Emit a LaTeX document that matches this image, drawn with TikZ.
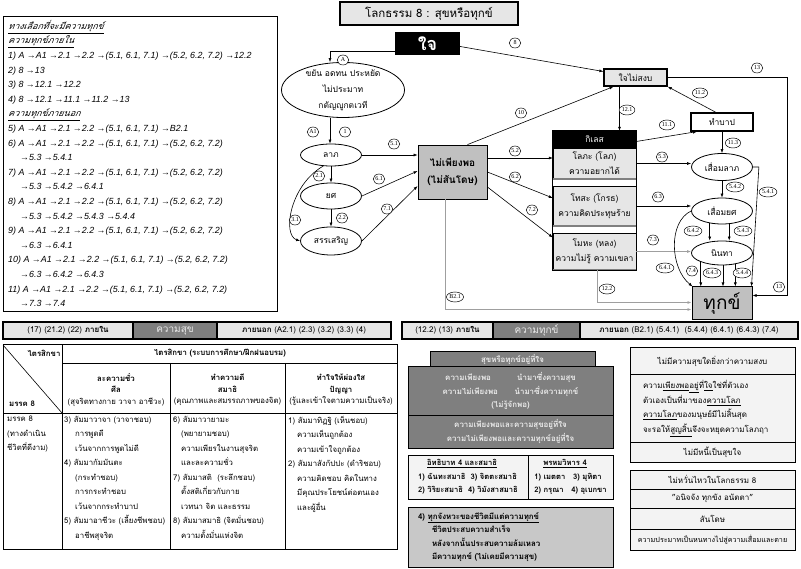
\documentclass[tikz,border=0pt]{standalone}
\usepackage{fontspec}
\setmainfont{Loma}[Script=Thai]
\newfontfamily\thaiit{Loma}[Script=Thai,FakeSlant=0.2]
\newfontfamily\latin{Liberation Sans}
\newfontfamily\numfont{Liberation Serif}
\usetikzlibrary{arrows.meta, calc, shapes.geometric}
\definecolor{lgray}{HTML}{E6E6E6}
\definecolor{mgray}{HTML}{C0C0C0}
\definecolor{ggray}{HTML}{C8C8C8}
\definecolor{dgray}{HTML}{7F7F7F}
\definecolor{pgray}{HTML}{F3F3F3}
\definecolor{lgtext}{HTML}{EAEAEA}

\begin{document}
\begin{tikzpicture}[x=1pt, y=-1pt, >={Latex[length=4pt,width=3pt]},
    arr/.style={->, line width=0.6pt},
    garr/.style={->, line width=1.6pt, draw=gray!75},
    num/.style={draw, ellipse, inner sep=0.3pt, minimum width=11.5pt, minimum height=10pt,
        fill=white, line width=0.5pt, font=\numfont\fontsize{6}{6}\selectfont},
    oval/.style={draw, ellipse, line width=0.8pt, inner sep=0pt, minimum width=61pt,
        fill=white, font=\fontsize{8.5}{10}\selectfont},
    kbox/.style={draw, fill=lgray, minimum width=83pt, inner sep=0pt, align=center,
        font=\fontsize{8.5}{15}\selectfont},
    bar/.style={draw, line width=1.2pt, fill=lgray, minimum height=17pt, inner sep=0pt,
        font=\fontsize{8}{10}\selectfont},
    hcell/.style={align=center, inner sep=0pt, font=\fontsize{7.8}{11.5}\selectfont},
    cell/.style={anchor=north west, align=left, inner sep=0pt, font=\fontsize{7.8}{14.5}\selectfont},
    dbox/.style={draw, line width=1pt, fill=dgray, text=lgtext, inner sep=0pt, align=center,
        font=\bfseries\fontsize{7.9}{13.5}\selectfont},
    rbox/.style={draw, line width=1pt, fill=pgray, minimum width=165pt, inner sep=0pt,
        align=center, font=\fontsize{8}{14.5}\selectfont}]

\useasboundingbox (0,0) rectangle (801,569);
\fill[white] (0,0) rectangle (801,569);

% left box
\node[draw, line width=1pt, minimum width=274pt, minimum height=295pt, inner sep=0pt] (opt) at (140,164.5) {};
\node[anchor=north west, align=left, inner sep=0pt, font=\latin\itshape\fontsize{8.9}{14.6}\selectfont] (opttxt) at (8,20) {%
{\thaiit\underline{ทางเลือกที่จะมีความทุกข์}}\\
{\thaiit\underline{ความทุกข์ภายใน}}\\
1) A →A1 →2.1 →2.2 →(5.1,\ 6.1,\ 7.1) →(5.2,\ 6.2,\ 7.2) →12.2\\
2) 8 →13\\
3) 8 →12.1 →12.2\\
4) 8 →12.1 →11.1 →11.2 →13\\
{\thaiit\underline{ความทุกข์ภายนอก}}\\
5) A →A1 →2.1 →2.2 →(5.1,\ 6.1,\ 7.1) →B2.1\\
6) A →A1 →2.1 →2.2 →(5.1,\ 6.1,\ 7.1) →(5.2,\ 6.2,\ 7.2)\\
\hspace*{12pt}→5.3 →5.4.1\\
7) A →A1 →2.1 →2.2 →(5.1,\ 6.1,\ 7.1) →(5.2,\ 6.2,\ 7.2)\\
\hspace*{12pt}→5.3 →5.4.2 →6.4.1\\
8) A →A1 →2.1 →2.2 →(5.1,\ 6.1,\ 7.1) →(5.2,\ 6.2,\ 7.2)\\
\hspace*{12pt}→5.3 →5.4.2 →5.4.3 →5.4.4\\
9) A →A1 →2.1 →2.2 →(5.1,\ 6.1,\ 7.1) →(5.2,\ 6.2,\ 7.2)\\
\hspace*{12pt}→6.3 →6.4.1\\
10) A →A1 →2.1 →2.2 →(5.1,\ 6.1,\ 7.1) →(5.2,\ 6.2,\ 7.2)\\
\hspace*{12pt}→6.3 →6.4.2 →6.4.3\\
11) A →A1 →2.1 →2.2 →(5.1,\ 6.1,\ 7.1) →(5.2,\ 6.2,\ 7.2)\\
\hspace*{12pt}→7.3 →7.4};

% diagram nodes
\node[draw, line width=1.5pt, fill=lgray, minimum width=178pt, minimum height=23pt, inner sep=0pt,
    font=\fontsize{11.5}{12}\selectfont] (title) at (429,13.5) {โลกธรรม 8 : สุขหรือทุกข์};
\node[fill=black, text=white, minimum width=65pt, minimum height=23pt, inner sep=0pt,
    font=\bfseries\fontsize{18}{18}\selectfont] (jai) at (427.5,43.5) {ใจ};
\node[draw, ellipse, line width=0.8pt, minimum width=123pt, minimum height=55pt] (effort) at (343,90) {};
\node[align=center, inner sep=0pt, font=\fontsize{8.5}{16}\selectfont] (efftxt) at (effort.center)
    {ขยัน อดทน ประหยัด\\ไม่ประมาท\\กตัญญูกตเวที};
\node[oval, minimum height=22pt] (lapa) at (331,155) {ลาภ};
\node[oval, minimum height=26pt] (yot) at (331,196) {ยศ};
\node[oval, minimum height=28pt] (sansoen) at (331,241) {สรรเสริญ};
\node[draw, line width=0.8pt, fill=mgray, minimum width=69pt, minimum height=54pt, inner sep=0pt,
    align=center, font=\bfseries\fontsize{10}{17}\selectfont] (mp) at (452.5,172) {ไม่เพียงพอ\\(ไม่สันโดษ)};
\node[draw, line width=1.2pt, fill=lgray, minimum width=63pt, minimum height=17pt, inner sep=0pt,
    font=\fontsize{8.5}{9}\selectfont] (jms) at (635.5,77.5) {ใจไม่สงบ};
\node[draw, line width=1.2pt, fill=white, minimum width=62pt, minimum height=18pt, inner sep=0pt,
    font=\fontsize{8.5}{9}\selectfont] (bap) at (722,122) {ทำบาป};
\node[fill=black, text=white, minimum width=83pt, minimum height=17pt, inner sep=0pt,
    font=\fontsize{8.5}{9}\selectfont] (kil) at (594.5,139.5) {กิเลส};
\node[kbox, minimum height=31pt] (lopha) at (594.5,163.5) {โลภะ (โลภ)\\ความอยากได้};
\node[kbox, minimum height=40pt] (thosa) at (594.5,206) {โทสะ (โกรธ)\\ความคิดประทุษร้าย};
\node[kbox, minimum height=37pt] (mopha) at (594.5,251.5) {โมหะ (หลง)\\ความไม่รู้ ความเขลา};
\draw[line width=1.5pt, gray] (lopha.south west) -- (lopha.south east)
    (thosa.south west) -- (thosa.south east) (mopha.south west) -- (mopha.south east);
\draw[line width=1pt] (kil.north west) rectangle (mopha.south east);
\node[oval, minimum height=27pt] (slap) at (722,167) {เสื่อมลาภ};
\node[oval, minimum height=26pt] (syot) at (722,211) {เสื่อมยศ};
\node[oval, minimum height=24pt] (ninta) at (722,253) {นินทา};
\node[draw, line width=1pt, fill=mgray, minimum width=60pt, minimum height=33pt, inner sep=0pt,
    font=\fontsize{19}{19}\selectfont] (dk) at (722,303.5) {ทุกข์};

% connectors
\draw[arr] ([yshift=-8pt]jai.west) -| ([xshift=-13pt]effort.north);
\draw[arr] ([xshift=-13pt]effort.south) -- ([xshift=-1pt]lapa.north);
\draw[arr] (lapa) -- (yot);
\draw[arr] (yot) -- (sansoen);
\draw[arr] (lapa.-125) .. controls (290,185) and (282,235) .. (sansoen.west);
\draw[arr] (lapa.east) -- (lapa.east -| mp.west);
\draw[arr] (yot.east) -- ([yshift=1pt]mp.west);
\draw[arr] (sansoen.east) -- ([yshift=-14pt]mp.west);
\draw[arr] ([yshift=-3pt]jai.east) -- ([yshift=6pt]jms.west);
\draw[arr] ([xshift=15pt]mp.north) -- ([xshift=-22pt]jms.south);
\coordinate (c13) at (787,77.5);
\draw[arr] (jms.east) -- (c13) |- ([yshift=8pt]dk.east);
\draw[arr] ([xshift=-16pt]jms.south) -- ([xshift=-16pt]jms.south |- kil.north);
\draw[arr] ([yshift=-2pt]kil.east) -- ([xshift=-25pt]bap.south);
\draw[arr] ([xshift=-6pt]bap.north) -- (jms.south east);
\draw[arr] (bap) -- (slap);
\draw[arr] ([yshift=14pt]mp.east) -- ([yshift=14pt]mp.east -| lopha.west);
\draw[arr] (mp.east) -- ([yshift=8pt]thosa.west);
\draw[arr] ([yshift=-15pt]mp.east) -- ([yshift=14pt]mopha.west);
\draw[arr] (lopha.east) -- (lopha.east -| slap.west);
\draw[arr] (thosa.east) -- (thosa.east -| syot.west);
\draw[garr] (mopha.east) -- (mopha.east -| ninta.west);
\draw[arr] (slap) -- (syot);
\draw[arr] (slap.east) -- ++(6,0) -- ([xshift=-1pt]dk.north east);
\draw[arr] (syot.-135) -- (syot.-135 |- ninta.north);
\draw[arr] (syot.-61) -- (syot.-61 |- ninta.north);
\draw[arr] (syot.west) .. controls (668,222) and (670,268) .. ([xshift=1pt]dk.north west);
\draw[arr] (ninta.-157) -- (ninta.-157 |- dk.north);
\draw[arr] ([xshift=1pt]ninta.south) -- ([xshift=1pt]dk.north);
\draw[arr] (ninta.-40) -- (ninta.-40 |- dk.north);
\draw[garr] ([xshift=3pt]mopha.south) |- ([yshift=1pt]dk.west);
\draw[garr] ([xshift=-7pt]mp.south) |- ([yshift=-6pt]dk.west);

% path labels
\foreach \t/\x/\y [count=\i] in {A/343/60, A1/313/132, 1/345/132, 5.1/394/144, 2.1/319/176,
    2.2/342/218, 3.1/295/220, 6.1/379/179, 7.1/387/209, 8/515/43, 10/521/113, 5.2/515/151,
    6.2/515/177, 7.2/532/210, B2.1/455/297, 12.1/627/110, 11.1/667/125, 11.2/700/93,
    11.3/733/143, 13/757/68, 13/779/287, 5.3/662/157, 6.3/658/197, 7.3/653/240,
    5.4.2/735/187, 5.4.1/768/192, 6.4.2/693/231, 5.4.3/743/231, 6.4.1/665/268,
    7.4/692/271, 6.4.3/712/273, 5.4.4/742/273, 12.2/607/289}
    \node[num] (lb\i) at (\x,\y) {\t};

% bars
\node[bar, minimum width=130pt] (b1) at (68,330.5) {(17) (21.2) (22) \textbf{ภายใน}};
\node[bar, fill=dgray, text=lgtext, minimum width=84pt, font=\fontsize{10}{10}\selectfont] (b2) at (175,330.5) {ความสุข};
\node[bar, minimum width=174pt] (b3) at (304,330.5) {\textbf{ภายนอก} (A2.1) (2.3) (3.2) (3.3) (4)};
\node[bar, minimum width=91pt] (c1) at (447.5,330.5) {(12.2) (13) \textbf{ภายใน}};
\node[bar, fill=dgray, text=lgtext, minimum width=87pt, font=\fontsize{10}{10}\selectfont] (c2) at (536.5,330.5) {ความทุกข์};
\node[bar, minimum width=218pt] (c3) at (689,330.5) {\textbf{ภายนอก} (B2.1) (5.4.1)\ \ (5.4.4) (6.4.1) (6.4.3) (7.4)};

% table
\draw[line width=1pt] (3,345) rectangle (397,549);
\draw[line width=0.8pt] (62,345) -- (62,549) (62,363) -- (397,363) (3,413) -- (397,413)
    (170,363) -- (170,549) (285,363) -- (285,549);
\draw[line width=0.6pt] (3,345) -- (62,413);
\node[hcell, font=\bfseries\fontsize{7.8}{11.5}\selectfont] (t0) at (44,353) {ไตรสิกขา};
\node[hcell, font=\bfseries\fontsize{7.8}{11.5}\selectfont] (t1) at (220,353) {ไตรสิกขา (ระบบการศึกษา/ฝึกฝนอบรม)};
\node[hcell, font=\bfseries\fontsize{7.8}{11.5}\selectfont] (t2) at (22,404) {มรรค 8};
\node[hcell] (h1) at (116,390) {\textbf{ละความชั่ว}\\\textbf{ศีล}\\(สุจริตทางกาย วาจา อาชีวะ)};
\node[hcell] (h2) at (227.5,390) {\textbf{ทำความดี}\\\textbf{สมาธิ}\\(คุณภาพและสมรรถภาพของจิต)};
\node[hcell] (h3) at (341,390) {\textbf{ทำใจให้ผ่องใส}\\\textbf{ปัญญา}\\(รู้และเข้าใจตามความเป็นจริง)};
\node[cell] (r0) at (7,416) {มรรค 8\\(ทางดำเนิน\\ชีวิตที่ดีงาม)};
\node[cell] (r1) at (64,416) {3) สัมมาวาจา (วาจาชอบ)\\\hspace*{11pt}การพูดดี\\\hspace*{11pt}เว้นจากการพูดไม่ดี\\
    4) สัมมากัมมันตะ\\\hspace*{11pt}(กระทำชอบ)\\\hspace*{11pt}การกระทำชอบ\\\hspace*{11pt}เว้นจากกระทำบาป\\
    5) สัมมาอาชีวะ (เลี้ยงชีพชอบ)\\\hspace*{11pt}อาชีพสุจริต};
\node[cell] (r2) at (173,416) {6) สัมมาวายามะ\\\hspace*{8pt}(พยายามชอบ)\\\hspace*{8pt}ความเพียรในงานสุจริต\\
    \hspace*{8pt}และละความชั่ว\\7) สัมมาสติ\ \ (ระลึกชอบ)\\\hspace*{8pt}ตั้งสติเกี่ยวกับกาย\\
    \hspace*{8pt}เวทนา จิต และธรรม\\8) สัมมาสมาธิ (จิตมั่นชอบ)\\\hspace*{8pt}ความตั้งมั่นแห่งจิต};
\node[cell] (r3) at (288,416) {1) สัมมาทิฏฐิ (เห็นชอบ)\\\hspace*{9pt}ความเห็นถูกต้อง\\\hspace*{9pt}ความเข้าใจถูกต้อง\\
    2) สัมมาสังกัปปะ (ดำริชอบ)\\\hspace*{9pt}ความคิดชอบ คิดในทาง\\\hspace*{9pt}มีคุณประโยชน์ต่อตนเอง\\
    \hspace*{9pt}และผู้อื่น};

% middle column
\node[dbox, minimum width=165pt, minimum height=15pt] (m1) at (512.5,359.5) {สุขหรือทุกข์อยู่ที่ใจ};
\node[dbox, minimum width=205pt, minimum height=48pt] (m2) at (510.5,391)
    {\makebox[72pt][l]{ความเพียงพอ}นำมาซึ่งความสุข\\\makebox[72pt][l]{ความไม่เพียงพอ}นำมาซึ่งความทุกข์\\(ไม่รู้จักพอ)};
\node[dbox, minimum width=205pt, minimum height=33pt] (m3) at (510.5,431.5)
    {ความเพียงพอและความสุขอยู่ที่ใจ\\ความไม่เพียงพอและความทุกข์อยู่ที่ใจ};
\node[draw, line width=1pt, fill=pgray, minimum width=120pt, minimum height=44pt, inner sep=0pt,
    align=left, font=\bfseries\fontsize{7.6}{13.5}\selectfont] (m4l) at (468,477)
    {\hspace*{9pt}\underline{อิทธิบาท 4 และสมาธิ}\\1) ฉันทะสมาธิ\ \ 3) จิตตะสมาธิ\\2) วิริยะสมาธิ\ \ 4) วิมังสาสมาธิ};
\node[draw, line width=1pt, fill=pgray, minimum width=85pt, minimum height=44pt, inner sep=0pt,
    align=left, font=\bfseries\fontsize{7.6}{13.5}\selectfont] (m4r) at (570.5,477)
    {\hspace*{9pt}\underline{พรหมวิหาร 4}\\1) เมตตา\ \ \ 3) มุทิตา\\2) กรุณา\ \ \ 4) อุเบกขา};
\node[draw, line width=1pt, fill=ggray, minimum width=205pt, minimum height=60pt, inner sep=0pt,
    text width=185pt, align=left, font=\bfseries\fontsize{7.9}{13.5}\selectfont] (m5) at (510.5,537)
    {4) \underline{ทุกจังหวะของชีวิตมีแต่ความทุกข์}\\\hspace*{14pt}ชีวิตประสบความสำเร็จ\\
    \hspace*{14pt}หลังจากนั้นประสบความล้มเหลว\\\hspace*{14pt}มีความทุกข์ (ไม่เคยมีความสุข)};

% right column
\node[rbox, minimum height=27pt] (q1) at (712.5,361.5) {ไม่มีความสุขใดยิ่งกว่าความสงบ};
\node[rbox, minimum height=67pt, text width=139pt, align=left] (q2) at (712.5,408.5)
    {ความ\underline{เพียงพอ}\underline{อยู่}ที่\underline{ใจ}ใช่ที่ตัวเอง\\ตัวเองเป็นที่มาของ\underline{ความโลภ}\\
    \underline{ความโลภ}ของมนุษย์มีไม่สิ้นสุด\\จะรอให้\underline{สูญสิ้น}จึงจะหยุดความโลภฤา};
\node[rbox, minimum height=20pt] (q3) at (712.5,452) {ไม่มีหนี้เป็นสุขใจ};
\node[rbox, minimum height=19pt] (q4) at (712.5,479.5) {ไม่หวั่นไหวในโลกธรรม 8};
\node[rbox, minimum height=19pt] (q5) at (712.5,498.5) {"อนิจจัง ทุกขัง อนัตตา"};
\node[rbox, minimum height=21pt] (q6) at (712.5,518.5) {สันโดษ};
\node[rbox, minimum height=21pt, font=\fontsize{7.2}{10}\selectfont] (q7) at (712.5,539.5) {ความประมาทเป็นหนทางไปสู่ความเสื่อมและตาย};
\end{tikzpicture}
\end{document}
